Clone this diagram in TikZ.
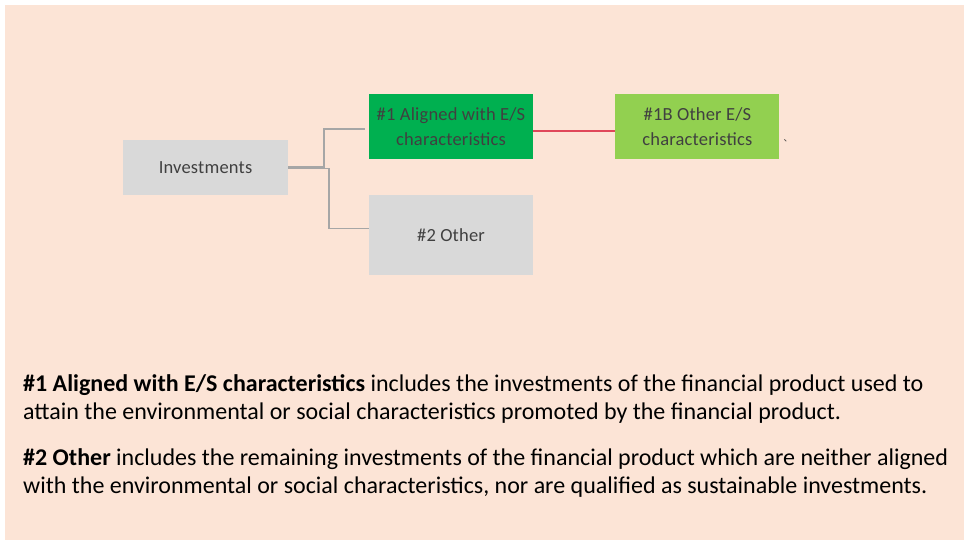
\documentclass[tikz,border=0pt]{standalone}
\usepackage{fontspec}
\setmainfont{Carlito}
\newfontfamily\boxfont[LetterSpace=1]{Carlito}
\newfontfamily\cjk{Noto Sans CJK SC}
\usetikzlibrary{positioning}
\definecolor{pagebg}{HTML}{FCE4D6}
\definecolor{boxgray}{HTML}{D9D9D9}
\definecolor{darkgreen}{HTML}{00B050}
\definecolor{lightgreen}{HTML}{92D050}
\definecolor{linkgray}{HTML}{A6A6A6}
\definecolor{linkred}{HTML}{E0475A}
\definecolor{boxtext}{HTML}{404040}
\tikzset{x=1pt, y=-1pt, % one unit is one pixel of the page, y runs downwards
	invbox/.style={fill=boxgray, minimum width=164pt, minimum height=65pt, inner sep=0pt,
		align=center, text=boxtext, font=\boxfont\fontsize{18.5}{25}\selectfont}, % the boxes of the tree
	link/.style={draw=linkgray, line width=1.5pt}, % grey branch lines
	note/.style={anchor=base west, align=left, inner sep=0pt, font=\fontsize{24}{28}\selectfont}, % text below
}
\begin{document}
\begin{tikzpicture}
	\useasboundingbox (0,0) rectangle (964,543);
	\fill[pagebg] (5,5) rectangle (964,540);
	% The root of the tree
	\node[invbox, minimum width=165pt, minimum height=55pt] (Inv) at (205.5,167.5) {Investments};
	% The two branches
	\node[invbox, fill=darkgreen] (Aligned) at (451,126.5) {\#1 Aligned with E/S\\characteristics};
	\node[invbox, minimum height=80pt, below=36pt of Aligned] (Other) {\#2 Other};
	% The sub-category
	\node[invbox, fill=lightgreen, right=82pt of Aligned] (OtherES) {\#1B Other E/S\\characteristics};
	\node[font=\cjk\fontsize{9}{9}\selectfont, text=boxtext, inner sep=0pt] (Mark) at (788,141) {、};
	%% Branch lines
	\draw[link] ([yshift=0.5pt]Inv.east) -- ++(36,0) |- ([xshift=-4pt,yshift=-2.5pt]Aligned.west);
	\draw[link] ([yshift=-1pt]Inv.east) -- ++(41,0) |- ([yshift=7pt]Other.west);
	\draw[linkred, line width=1.5pt] ([yshift=-4.5pt]Aligned.east) -- ([yshift=-4.5pt]OtherES.west);
	%% Explanations
	\node[note] (NoteA) at (23,419) {\textbf{\#1 Aligned with E/S characteristics} includes the investments of the financial product used to\\attain the environmental or social characteristics promoted by the financial product.};
	\node[note] (NoteB) at (23,493) {\textbf{\#2 Other} includes the remaining investments of the financial product which are neither aligned\\with the environmental or social characteristics, nor are qualified as sustainable investments.};
\end{tikzpicture}
\end{document}
